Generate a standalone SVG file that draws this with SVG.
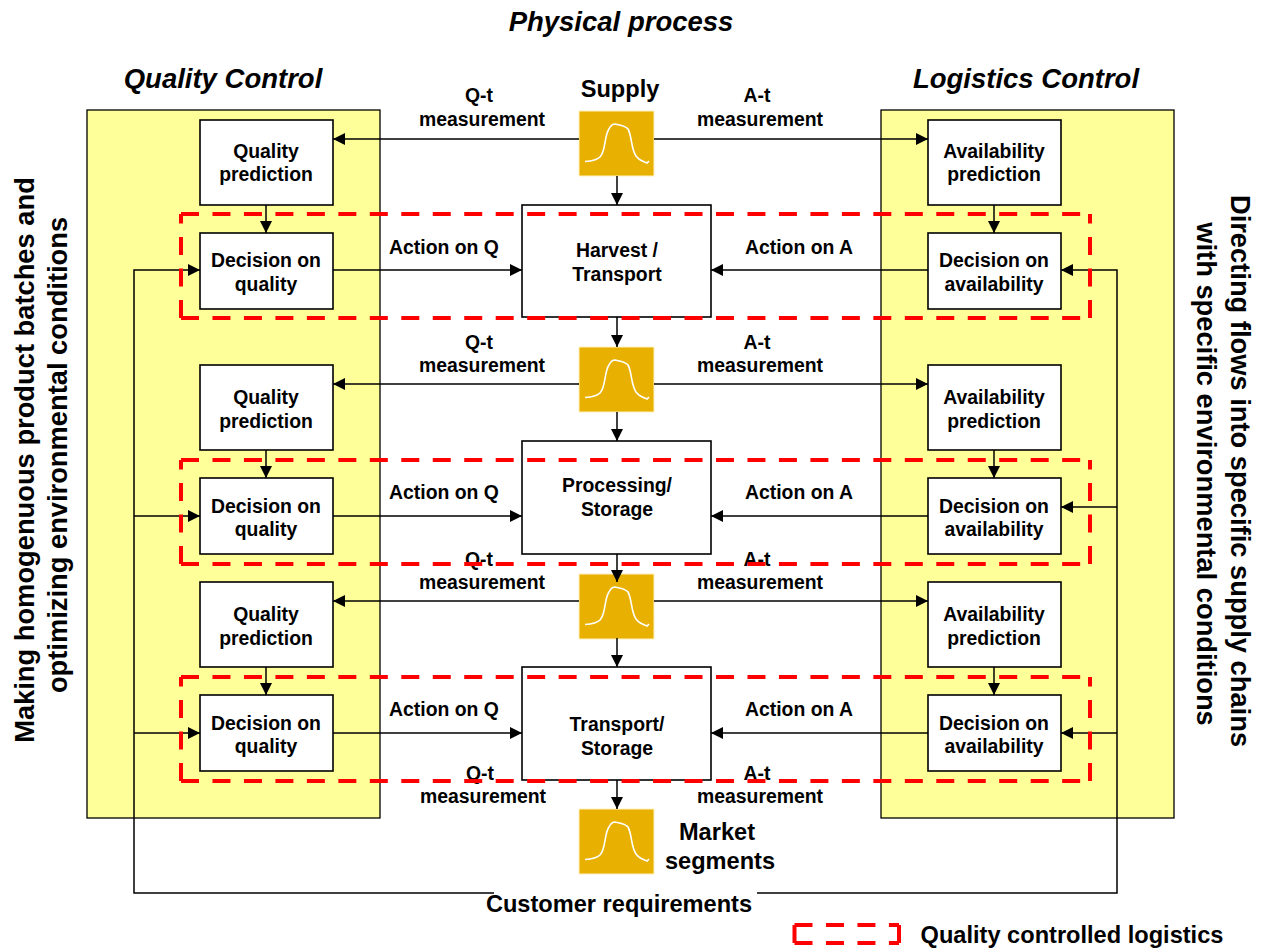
<svg xmlns="http://www.w3.org/2000/svg" xmlns:xlink="http://www.w3.org/1999/xlink" width="1263" height="950" viewBox="0 0 1263 950">
<style>
text{font-family:"Liberation Sans",Arial,sans-serif;font-weight:bold;fill:#000;text-anchor:middle}
.t{font-size:19.4px}
.h{font-size:27.5px;font-style:italic}
.s{font-size:27.3px}
.m{font-size:23.6px}
.panel{fill:#ffff99;stroke:#000;stroke-width:1.3}
.box{fill:#fff;stroke:#000;stroke-width:1.6}
.sensor{fill:#e8b000;stroke:#fff2c0;stroke-width:1}
.curve{fill:none;stroke:#fff;stroke-width:1.6}
.a{fill:none;stroke:#000;stroke-width:1.5;marker-end:url(#arr)}
.d{fill:none;stroke:#f00;stroke-width:4;stroke-dasharray:18 13.47}
</style>
<defs>
<marker id="arr" markerUnits="userSpaceOnUse" markerWidth="12" markerHeight="12" refX="12" refY="6" orient="auto"><path d="M0 0L12 6L0 12Z" fill="#000"/></marker>
<g id="sens"><rect class="sensor" x="579" y="0" width="75" height="65"/><path class="curve" d="M585 50.5C592 50 597 49 600 46C606 40 604 25 609 18C611 14 613 13 615 13C620 14 626 15 628 18C632 25 631 38 636 45C639 49 644 51 647 52L649 50"/></g>
</defs>
<rect width="1263" height="950" fill="#fff"/>
<g id="panel-quality"><rect class="panel" x="87" y="110" width="293" height="708"/></g>
<g id="panel-logistics"><rect class="panel" x="881" y="110" width="293" height="708"/></g>

<g id="q-pred-1"><rect class="box" x="200" y="120" width="133" height="85"/><text class="t" x="266" y="158">Quality</text><text class="t" x="266" y="181">prediction</text></g>
<g id="q-dec-1"><rect class="box" x="200" y="233" width="133" height="76"/><text class="t" x="266" y="267">Decision on</text><text class="t" x="266" y="291">quality</text></g>
<g id="q-pred-2"><rect class="box" x="200" y="365" width="133" height="85"/><text class="t" x="266" y="404">Quality</text><text class="t" x="266" y="428">prediction</text></g>
<g id="q-dec-2"><rect class="box" x="200" y="478" width="133" height="76"/><text class="t" x="266" y="513">Decision on</text><text class="t" x="266" y="536">quality</text></g>
<g id="q-pred-3"><rect class="box" x="200" y="582" width="133" height="85"/><text class="t" x="266" y="621">Quality</text><text class="t" x="266" y="645">prediction</text></g>
<g id="q-dec-3"><rect class="box" x="200" y="695" width="133" height="76"/><text class="t" x="266" y="730">Decision on</text><text class="t" x="266" y="753">quality</text></g>

<g id="a-pred-1"><rect class="box" x="928" y="120" width="133" height="85"/><text class="t" x="994" y="158">Availability</text><text class="t" x="994" y="181">prediction</text></g>
<g id="a-dec-1"><rect class="box" x="928" y="233" width="133" height="76"/><text class="t" x="994" y="267">Decision on</text><text class="t" x="994" y="291">availability</text></g>
<g id="a-pred-2"><rect class="box" x="928" y="365" width="133" height="85"/><text class="t" x="994" y="404">Availability</text><text class="t" x="994" y="428">prediction</text></g>
<g id="a-dec-2"><rect class="box" x="928" y="478" width="133" height="76"/><text class="t" x="994" y="513">Decision on</text><text class="t" x="994" y="536">availability</text></g>
<g id="a-pred-3"><rect class="box" x="928" y="582" width="133" height="85"/><text class="t" x="994" y="621">Availability</text><text class="t" x="994" y="645">prediction</text></g>
<g id="a-dec-3"><rect class="box" x="928" y="695" width="133" height="76"/><text class="t" x="994" y="730">Decision on</text><text class="t" x="994" y="753">availability</text></g>

<g id="harvest"><rect class="box" x="522" y="205" width="189" height="112"/><text class="t" x="617" y="257">Harvest /</text><text class="t" x="617" y="281">Transport</text></g>
<g id="processing"><rect class="box" x="522" y="441" width="189" height="113"/><text class="t" x="617" y="492">Processing/</text><text class="t" x="617" y="516">Storage</text></g>
<g id="transport"><rect class="box" x="522" y="667" width="189" height="113"/><text class="t" x="617" y="731">Transport/</text><text class="t" x="617" y="755">Storage</text></g>

<g id="sensor-1"><use xlink:href="#sens" href="#sens" y="111"/></g>
<g id="sensor-2"><use xlink:href="#sens" href="#sens" y="347"/></g>
<g id="sensor-3"><use xlink:href="#sens" href="#sens" y="574"/></g>
<g id="sensor-4"><use xlink:href="#sens" href="#sens" y="809"/></g>

<g id="connectors">
<path class="a" d="M579 139H333"/><path class="a" d="M654 139H928"/>
<path class="a" d="M617 176V205"/><path class="a" d="M266 205V233"/><path class="a" d="M994 205V233"/>
<path class="a" d="M333 270H522"/><path class="a" d="M928 270H711"/>
<path class="a" d="M617 317V347"/>
<path class="a" d="M579 384H333"/><path class="a" d="M654 384H928"/>
<path class="a" d="M617 412V441"/><path class="a" d="M266 450V478"/><path class="a" d="M994 450V478"/>
<path class="a" d="M333 516H522"/><path class="a" d="M928 516H711"/>
<path class="a" d="M617 554V582"/>
<path class="a" d="M579 601H333"/><path class="a" d="M654 601H928"/>
<path class="a" d="M617 638V667"/><path class="a" d="M266 667V695"/><path class="a" d="M994 667V695"/>
<path class="a" d="M333 733H522"/><path class="a" d="M928 733H711"/>
<path class="a" d="M617 780V809"/>
<path class="a" d="M494 893H134V270H200"/><path class="a" d="M134 516H200"/><path class="a" d="M134 733H200"/>
<path class="a" d="M757 893H1117V270H1061"/><path class="a" d="M1117 507H1061"/><path class="a" d="M1117 733H1061"/>
</g>

<g id="labels">
<text class="h" x="621" y="31">Physical process</text>
<text class="h" x="223" y="88">Quality Control</text>
<text class="h" x="1026" y="88">Logistics Control</text>
<text class="m" x="620" y="97">Supply</text>
<text class="t" x="479" y="102">Q-t</text><text class="t" x="482" y="126">measurement</text>
<text class="t" x="757" y="102">A-t</text><text class="t" x="760" y="126">measurement</text>
<text class="t" x="444" y="254">Action on Q</text><text class="t" x="799" y="254">Action on A</text>
<text class="t" x="479" y="349">Q-t</text><text class="t" x="482" y="372">measurement</text>
<text class="t" x="757" y="349">A-t</text><text class="t" x="760" y="372">measurement</text>
<text class="t" x="444" y="499">Action on Q</text><text class="t" x="799" y="499">Action on A</text>
<text class="t" x="479" y="566">Q-t</text><text class="t" x="482" y="589">measurement</text>
<text class="t" x="757" y="566">A-t</text><text class="t" x="760" y="589">measurement</text>
<text class="t" x="444" y="716">Action on Q</text><text class="t" x="799" y="716">Action on A</text>
<text class="t" x="480" y="780">Q-t</text><text class="t" x="483" y="803">measurement</text>
<text class="t" x="757" y="780">A-t</text><text class="t" x="760" y="803">measurement</text>
<text class="m" x="717" y="840">Market</text><text class="m" x="720" y="869">segments</text>
<text class="m" x="619" y="912">Customer requirements</text>
<text class="m" x="1072" y="943">Quality controlled logistics</text>
<text class="s" transform="translate(33.5 460) rotate(-90)">Making homogenuous product batches and</text>
<text class="s" transform="translate(67 455) rotate(-90)">optimizing environmental conditions</text>
<text class="s" transform="translate(1231 471) rotate(90)">Directing flows into specific supply chains</text>
<text class="s" transform="translate(1197 474) rotate(90)">with specific environmental conditions</text>
</g>

<g id="quality-logistics">
<path class="d" d="M181 214H1090M181 318H1090M181 318V214M1090 318V214"/>
<path class="d" d="M181 460H1090M181 564H1090M181 564V460M1090 564V460"/>
<path class="d" d="M181 677H1090M181 781H1090M181 781V677M1090 781V677"/>
</g>
<g id="legend"><path class="d" d="M794.5 925H899M794.5 943H899M794.5 943V925M899 943V925"/></g>
</svg>
